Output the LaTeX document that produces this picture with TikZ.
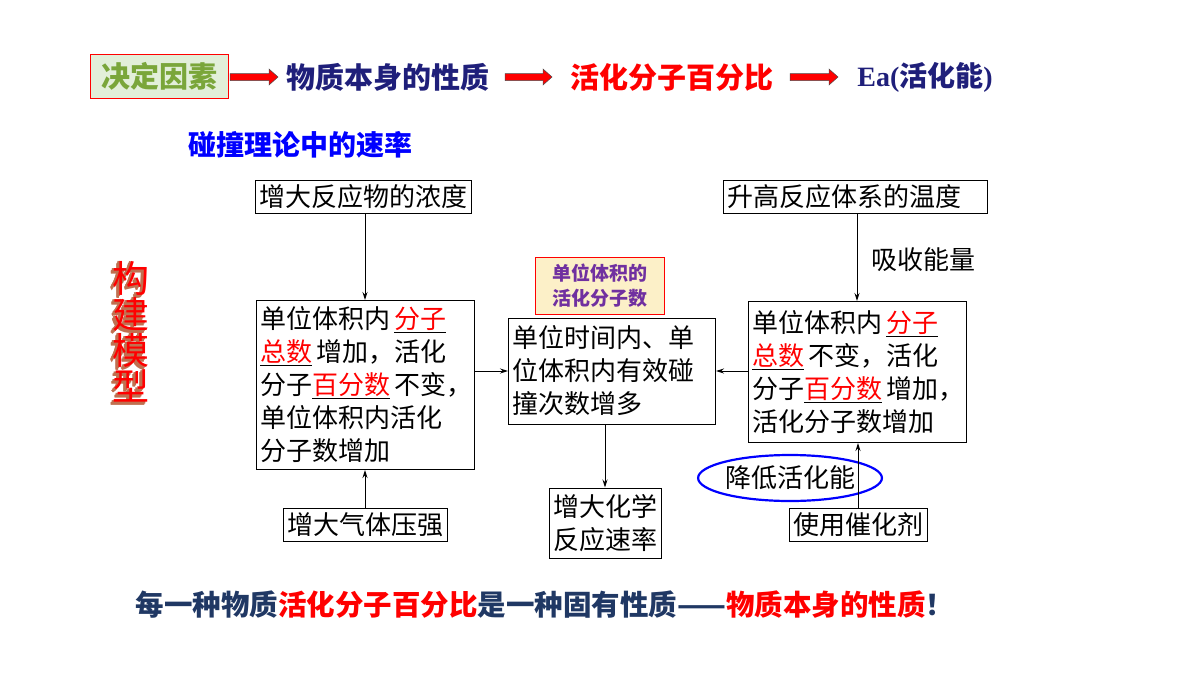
\documentclass[tikz,border=0pt]{standalone}
\usepackage{fontspec}
\setmainfont{Liberation Serif}
\newfontfamily\cjk{Noto Sans CJK SC}
\usetikzlibrary{arrows.meta,shapes.geometric}
\definecolor{navy}{HTML}{1F1F7A}
\definecolor{gfill}{HTML}{E2EFD9}
\definecolor{gtxt}{HTML}{7AA63A}
\definecolor{yfill}{HTML}{FCF0C8}
\definecolor{purp}{HTML}{7030A0}
\definecolor{slate}{HTML}{203864}
\definecolor{brn}{HTML}{C07050}
\newcommand\ulr[1]{\underline{\textcolor{red}{#1}}}
\tikzset{
  bx/.style={draw,line width=1pt,inner sep=4pt,font=\cjk\fontsize{26}{33}\selectfont,align=left},
  ar/.style={-{Stealth[length=8pt,width=5pt]},line width=0.9pt},
  rar/.style={draw=black!70,fill=red,line width=0.5pt},
  head/.style={font=\cjk\bfseries\fontsize{29}{32}\selectfont},
  ttl/.style={font=\cjk\fontsize{37}{37}\selectfont}
}
\begin{document}
\begin{tikzpicture}[x=1pt,y=-1pt]
\useasboundingbox (0,0) rectangle (1200,675);
% top row
\node[draw=red,fill=gfill,minimum width=138pt,minimum height=44pt,inner sep=2pt,text=gtxt,head] (jd) at (159,76) {决定因素};
\node[head,text=navy] (wz) at (388,77) {物质本身的性质};
\node[head,text=red] (hh) at (672,77) {活化分子百分比};
\node[font=\bfseries\fontsize{28}{30}\selectfont,text=navy] (ea) at (925,77) {Ea({\cjk 活化能})};
\foreach \a/\b in {230/278,505/552,790/838}{
  \path[rar] (\a,73.5) -- (\b-9,73.5) -- (\b-9,69) -- (\b,77) -- (\b-9,85) -- (\b-9,80.5) -- (\a,80.5) -- cycle;}
\node[font=\cjk\bfseries\fontsize{28}{30}\selectfont,text=blue] (pz) at (300,145) {碰撞理论中的速率};
% 3D title
\foreach \c [count=\i] in {构,建,模,型}{
  \foreach \d in {4,3,2,1}{
    \node[ttl,text=brn] at (130-\d*0.6,242+\i*36+\d*0.8) {\c};}
  \node[ttl,text=red] (t\i) at (131,242+\i*36) {\c};}
% boxes
\node[bx,text width=208pt] (nd) at (363,197) {增大反应物的浓度};
\node[bx,text width=256pt] (wd) at (855,197) {升高反应体系的温度};
\node[bx,text width=210pt,minimum height=169pt] (L) at (365,385) {单位体积内\,\ulr{分子}\\\ulr{总数}\,增加，活化\\分子\ulr{百分数}\,不变，\\单位体积内活化\\分子数增加};
\node[bx,text width=199pt,minimum height=106pt] (M) at (612,371) {单位时间内、单\\位体积内有效碰\\撞次数增多};
\node[bx,text width=210pt,minimum height=141pt] (R) at (857,372) {单位体积内\,\ulr{分子}\\\ulr{总数}\,不变，活化\\分子\ulr{百分数}\,增加，\\活化分子数增加};
\node[draw=red,fill=yfill,line width=0.8pt,minimum width=129pt,minimum height=57pt,text=purp,font=\cjk\bfseries\fontsize{19}{25}\selectfont,align=center] (hx) at (600,286) {单位体积的\\活化分子数};
\node[bx] (qt) at (365,525) {增大气体压强};
\node[bx,align=center,minimum height=70pt] (sl) at (605,523) {增大化学\\反应速率};
\node[bx] (ch) at (858,525) {使用催化剂};
\node[font=\cjk\fontsize{26}{28}\selectfont] (xs) at (923,260) {吸收能量};
\node[draw=blue,line width=2.2pt,ellipse,minimum width=176pt,minimum height=46pt,inner sep=0pt,font=\cjk\fontsize{26}{28}\selectfont] (jd2) at (790,478) {降低活化能};
% arrows
\draw[ar] (nd.south -| L.north) -- (L.north);
\draw[ar] (qt.north) -- (L.south);
\draw[ar] (L.east |- M.west) -- (M.west);
\draw[ar] (R.west |- M.east) -- (M.east);
\draw[ar] (M.south -| sl.north) -- (sl.north);
\draw[ar] (wd.south -| R.north) -- (R.north);
\draw[ar] (ch.north) -- (ch.north |- R.south);
% bottom sentence
\node[font=\cjk\bfseries\fontsize{28.5}{32}\selectfont,text=slate] (bt) at (545,605) {每一种物质\textcolor{red}{活化分子百分比}是一种固有性质——\textcolor{red}{物质本身的性质}！};
\end{tikzpicture}
\end{document}
